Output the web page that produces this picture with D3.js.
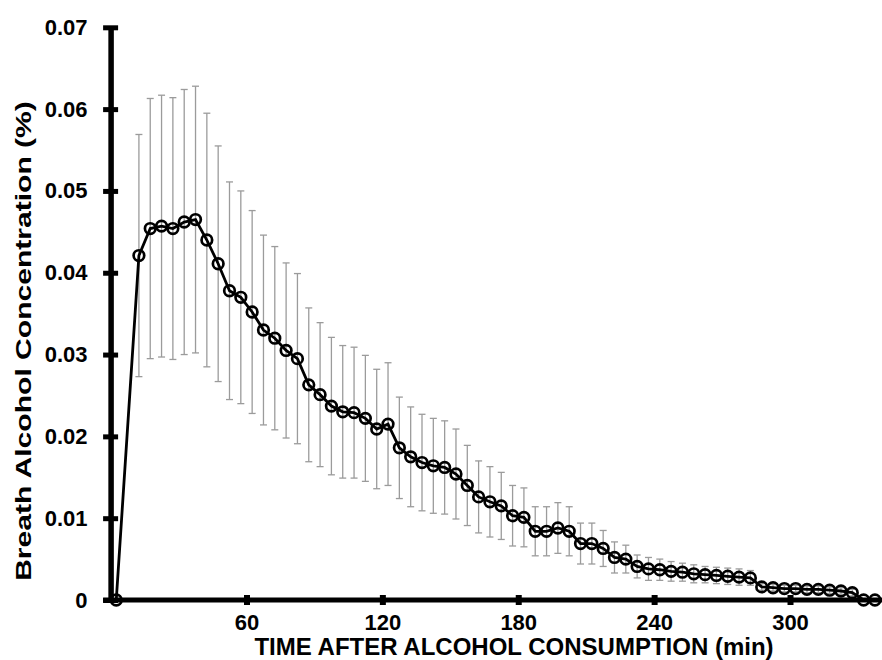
<!DOCTYPE html>
<html>
<head>
<meta charset="utf-8">
<script src="https://cdn.jsdelivr.net/npm/d3@7"></script>
<style>
  html, body { margin: 0; padding: 0; background: #fff; }
  svg { display: block; }
  text { font-family: "Liberation Sans", Arial, sans-serif; font-weight: bold; fill: #000; }
</style>
</head>
<body>
<svg id="chart" width="882" height="660"></svg>
<script>
// Time after consumption (min), plotted at category centres
const times = [2.5, 12.5, 17.5, 22.5, 27.5, 32.5, 37.5, 42.5, 47.5, 52.5, 57.5, 62.5, 67.5, 72.5, 77.5, 82.5,
  87.5, 92.5, 97.5, 102.5, 107.5, 112.5, 117.5, 122.5, 127.5, 132.5, 137.5, 142.5, 147.5, 152.5, 157.5, 162.5,
  167.5, 172.5, 177.5, 182.5, 187.5, 192.5, 197.5, 202.5, 207.5, 212.5, 217.5, 222.5, 227.5, 232.5, 237.5, 242.5,
  247.5, 252.5, 257.5, 262.5, 267.5, 272.5, 277.5, 282.5, 287.5, 292.5, 297.5, 302.5, 307.5, 312.5, 317.5, 322.5,
  327.5, 332.5, 337.5];
// Mean breath alcohol concentration (%)
const means = [0, 0.0421, 0.0454, 0.0457, 0.0454, 0.0462, 0.0465, 0.0440, 0.0411, 0.0378, 0.0370, 0.0352, 0.0330,
  0.0320, 0.0305, 0.0295, 0.0263, 0.0251, 0.0237, 0.0230, 0.0229, 0.0222, 0.0209, 0.0215, 0.0186, 0.0175, 0.0168,
  0.0164, 0.0162, 0.0154, 0.0140, 0.0126, 0.0120, 0.0115, 0.0103, 0.0101, 0.0084, 0.0084, 0.0088, 0.0084, 0.0069,
  0.0069, 0.0063, 0.0052, 0.0050, 0.0041, 0.0038, 0.0037, 0.0035, 0.0034, 0.0032, 0.0031, 0.0030, 0.0029, 0.0028,
  0.0027, 0.0016, 0.0015, 0.0014, 0.0014, 0.0013, 0.0013, 0.0012, 0.0011, 0.0009, 0, 0];
// Standard deviation (error bar half-length)
const sds = [0, 0.0148, 0.0159, 0.0160, 0.0160, 0.0162, 0.0163, 0.0155, 0.0144, 0.0133, 0.0130, 0.0124, 0.0116,
  0.0112, 0.0107, 0.0104, 0.0094, 0.0088, 0.0084, 0.0081, 0.0080, 0.0077, 0.0073, 0.0075, 0.0062, 0.0061, 0.0059,
  0.0058, 0.0057, 0.0055, 0.0049, 0.0044, 0.0043, 0.0041, 0.0037, 0.0036, 0.0030, 0.0030, 0.0031, 0.0030, 0.0025,
  0.0025, 0.0022, 0.0019, 0.0017, 0.0014, 0.0014, 0.0013, 0.0012, 0.0011, 0.0011, 0.0010, 0.0010, 0.0010, 0.0010,
  0.0009, 0.0004, 0.0004, 0.0004, 0.0004, 0.0004, 0.0004, 0.0004, 0.0004, 0.0004, 0, 0];
const xTicks = [60, 120, 180, 240, 300];
const yTicks = [0, 0.01, 0.02, 0.03, 0.04, 0.05, 0.06, 0.07];
const xTitle = "TIME AFTER ALCOHOL CONSUMPTION (min)";
const yTitle = "Breath Alcohol Concentration (%)";

const data = times.map((t, i) => ({ t, m: means[i], sd: sds[i] }));

const svg = d3.select("#chart");
const x = d3.scaleLinear().domain([0, 340]).range([110.6, 880.6]);
const y = d3.scaleLinear().domain([0, 0.07]).range([600, 27.3]);

// Error bars
const eb = svg.append("g").attr("stroke", "#9b9b9b").attr("stroke-width", 1.3).attr("fill", "none");
data.filter(d => d.sd > 0).forEach(d => {
  const cx = x(d.t), y1 = y(d.m + d.sd), y2 = y(d.m - d.sd);
  eb.append("line").attr("x1", cx).attr("x2", cx).attr("y1", y1).attr("y2", y2);
  eb.append("line").attr("x1", cx - 3.5).attr("x2", cx + 3.5).attr("y1", y1).attr("y2", y1);
  eb.append("line").attr("x1", cx - 3.5).attr("x2", cx + 3.5).attr("y1", y2).attr("y2", y2);
});

// Axes
const yAxis = d3.axisLeft(y).tickValues(yTicks).tickSize(0).tickPadding(23)
  .tickFormat(d => d === 0 ? "0" : d3.format(".2f")(d));
const gy = svg.append("g").attr("transform", `translate(${x(0)},0)`).call(yAxis);
gy.select(".domain").attr("stroke", "#000").attr("stroke-width", 5.5);
gy.selectAll(".tick").append("line").attr("x1", -7.5).attr("x2", 7.5).attr("stroke", "#000").attr("stroke-width", 5);
gy.selectAll(".tick text").attr("font-size", 22).attr("font-family", "Liberation Sans, Arial, sans-serif").attr("font-weight", "bold").attr("fill", "#000");

const xAxis = d3.axisBottom(x).tickValues(xTicks).tickSize(0).tickPadding(14);
const gx = svg.append("g").attr("transform", `translate(0,${y(0)})`).call(xAxis);
gx.select(".domain").remove();
gx.append("line").attr("x1", x(0) - 7.5).attr("x2", 882).attr("y1", 0).attr("y2", 0)
  .attr("stroke", "#000").attr("stroke-width", 5);
gx.selectAll(".tick").append("line").attr("y1", -5).attr("y2", 5).attr("stroke", "#000").attr("stroke-width", 6);
gx.selectAll(".tick text").attr("font-size", 22).attr("font-family", "Liberation Sans, Arial, sans-serif").attr("font-weight", "bold").attr("fill", "#000");

// Line
const line = d3.line().x(d => x(d.t)).y(d => y(d.m));
svg.append("path").datum(data).attr("d", line).attr("fill", "none").attr("stroke", "#000").attr("stroke-width", 2.8);

// Markers
svg.append("g").selectAll("circle").data(data).join("circle")
  .attr("cx", d => x(d.t)).attr("cy", d => y(d.m)).attr("r", 5.3)
  .attr("fill", "none").attr("stroke", "#000").attr("stroke-width", 2.7);

// Titles
svg.append("text").attr("x", 514).attr("y", 655).attr("text-anchor", "middle")
  .attr("font-size", 24).text(xTitle);
const yt = svg.append("text").attr("text-anchor", "middle").attr("font-size", 22).text(yTitle);
const natural = yt.node().getComputedTextLength();
const sx = 480 / natural;
yt.attr("transform", `translate(31,341) rotate(-90) scale(${sx},1)`);
</script>
</body>
</html>
